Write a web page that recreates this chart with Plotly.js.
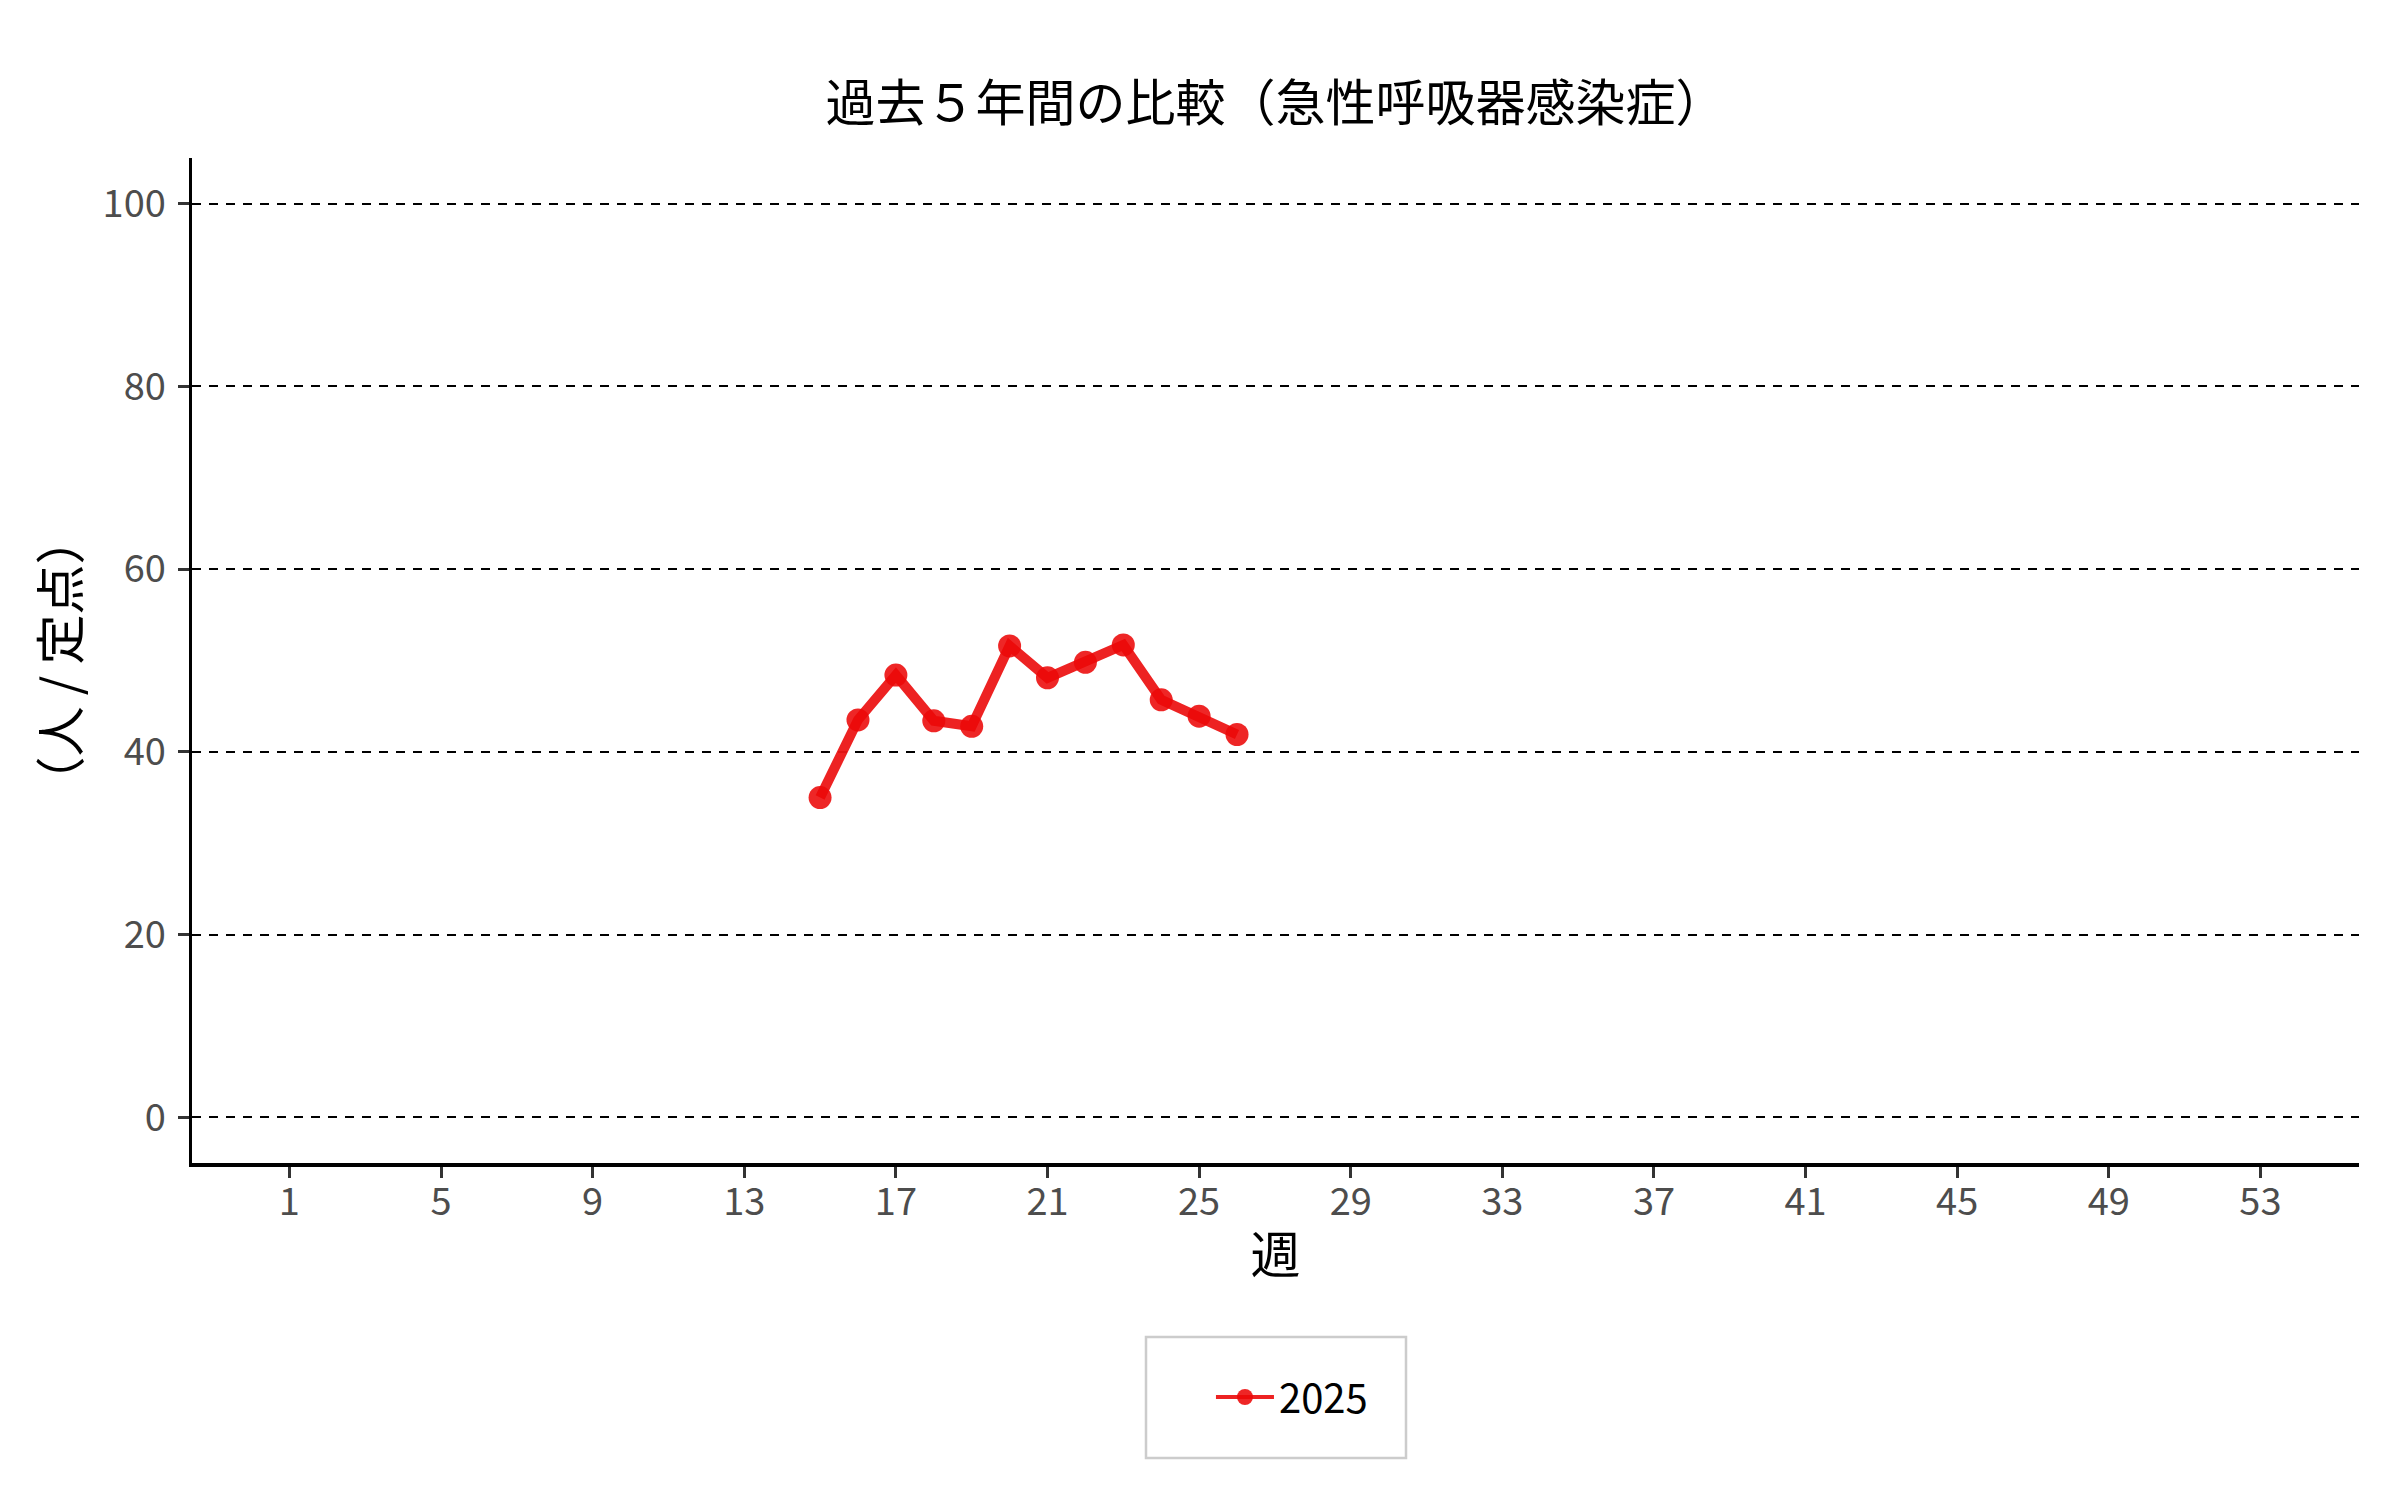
<!DOCTYPE html>
<html>
<head>
<meta charset="utf-8">
<script src="https://cdn.plot.ly/plotly-3.0.1.min.js"></script>
<style>html,body{margin:0;padding:0;background:#fff;}#chart{width:2400px;height:1500px;}</style>
</head>
<body>
<div id="chart"></div>
<script>
const weeks = [15, 16, 17, 18, 19, 20, 21, 22, 23, 24, 25, 26];
const values2025 = [35.0, 43.5, 48.4, 43.4, 42.8, 51.6, 48.1, 49.8, 51.7, 45.7, 43.9, 41.9];
const seriesName = "2025";
const xTickVals = [1, 5, 9, 13, 17, 21, 25, 29, 33, 37, 41, 45, 49, 53];
const yTickVals = [0, 20, 40, 60, 80, 100];
const titleText = "過去５年間の比較（急性呼吸器感染症）";
const xTitle = "週";
const yTitle = "（人 / 定点）";

const FONT = '"Noto Sans CJK JP", "Noto Sans", sans-serif';
const LINE_COLOR = 'rgba(236,22,22,0.95)';
const MARKER_COLOR = 'rgba(236,8,8,0.88)';

const trace = {
  x: weeks, y: values2025, name: seriesName, type: 'scatter', mode: 'lines+markers',
  line: {color: LINE_COLOR, width: 10},
  marker: {color: MARKER_COLOR, size: 23},
  legendgroup: 'g2025', showlegend: false
};
// legend key for the same series (thinner line like the reference key)
const legendKey = {
  x: [null], y: [null], name: seriesName, type: 'scatter', mode: 'lines+markers',
  line: {color: LINE_COLOR, width: 4},
  marker: {color: MARKER_COLOR, size: 16},
  legendgroup: 'g2025', showlegend: true, hoverinfo: 'skip'
};

const L = 192, R = 41, T = 158, B = 337;
const PW = 2400 - L - R, PH = 1500 - T - B;

const layout = {
  width: 2400, height: 1500,
  paper_bgcolor: '#fff', plot_bgcolor: '#fff',
  margin: {l: L, r: R, t: T, b: B},
  font: {family: FONT, color: '#000'},
  title: {text: titleText, font: {family: FONT, size: 50, color: '#000'},
          x: 0.5, xref: 'paper', xanchor: 'center', y: 1 - 103/1500, yref: 'container', yanchor: 'middle'},
  xaxis: {
    range: [-1.57, 55.6], tickmode: 'array', tickvals: xTickVals, ticktext: xTickVals.map(String),
    showgrid: false, zeroline: false,
    showline: true, linecolor: '#000', linewidth: 3.5,
    ticks: 'outside', ticklen: 11, tickwidth: 3, tickcolor: '#333',
    ticklabelstandoff: -8,
    tickfont: {family: FONT, size: 38, color: '#4D4D4D'},
    title: {text: xTitle, font: {family: FONT, size: 50, color: '#000'}, standoff: 14}
  },
  yaxis: {
    range: [-5, 105], tickmode: 'array', tickvals: yTickVals, ticktext: yTickVals.map(String),
    showgrid: true, gridcolor: '#000', gridwidth: 2, griddash: '9px,8px',
    zeroline: false,
    showline: true, linecolor: '#000', linewidth: 3.5,
    ticks: 'outside', ticklen: 11, tickwidth: 3, tickcolor: '#333',
    ticklabelstandoff: 4,
    tickfont: {family: FONT, size: 38, color: '#4D4D4D'},
    title: {text: yTitle, font: {family: FONT, size: 50, color: '#000'}, standoff: 8}
  },
  showlegend: true,
  legend: {
    orientation: 'h', x: 0.5076, xanchor: 'center', y: -(1397 - (1500 - B)) / PH, yanchor: 'middle',
    xref: 'paper', yref: 'paper', itemwidth: 58,
    bgcolor: 'rgba(0,0,0,0)', borderwidth: 0,
    font: {family: FONT, size: 40, color: '#000'}
  },
  shapes: [{
    type: 'rect', xref: 'paper', yref: 'paper',
    x0: (1146 - L) / PW, x1: (1406 - L) / PW,
    y0: -(1337 - (1500 - B)) / PH, y1: -(1458 - (1500 - B)) / PH,
    line: {color: '#CCCCCC', width: 2.5}, fillcolor: 'rgba(0,0,0,0)', layer: 'below'
  }]
};

Plotly.newPlot('chart', [trace, legendKey], layout, {displayModeBar: false, staticPlot: true});
</script>
</body>
</html>
